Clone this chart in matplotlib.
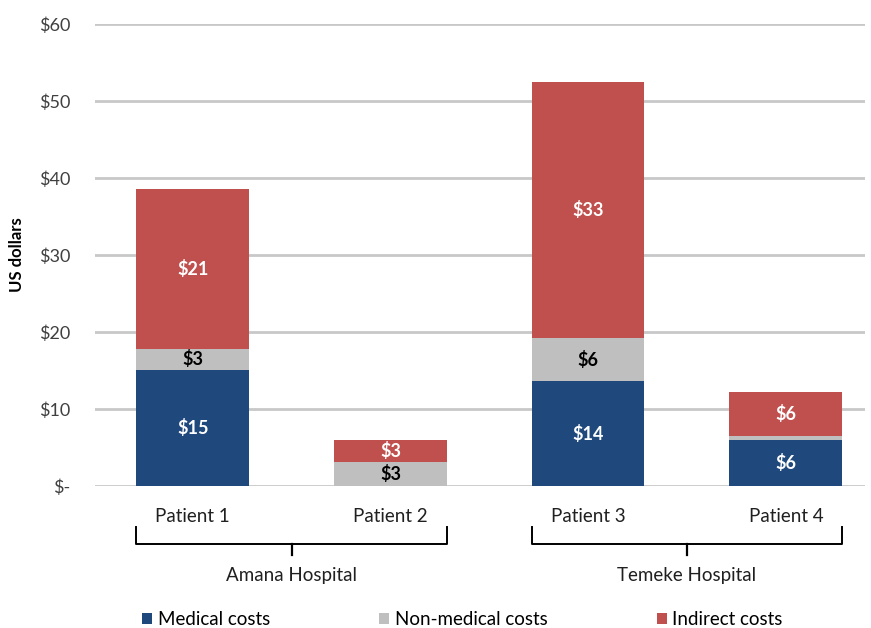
import numpy as np
import matplotlib.pyplot as plt
from matplotlib.lines import Line2D

plt.rcParams['font.family'] = ['Lato', 'DejaVu Sans']

# Data
patients = ['Patient 1', 'Patient 2', 'Patient 3', 'Patient 4']
hospitals = ['Amana Hospital', 'Temeke Hospital']
medical = [15.1, 0.0, 13.6, 6.0]
non_medical = [2.7, 3.1, 5.6, 0.5]
indirect = [20.8, 2.9, 33.3, 5.7]

colors = ['#1F497D', '#BFBFBF', '#C0504D']
names = ['Medical costs', 'Non-medical costs', 'Indirect costs']
text_colors = ['white', 'black', 'white']

fig = plt.figure(figsize=(8.71, 6.28), dpi=100)
ax = fig.add_axes([0.109, 0.226, 0.884, 0.736])

x = np.arange(len(patients))
width = 0.57
bottom = np.zeros(len(patients))
bars = []
for vals, col, name, tc in zip([medical, non_medical, indirect], colors, names, text_colors):
    vals = np.array(vals)
    b = ax.bar(x, vals, width, bottom=bottom, color=col, label=name, zorder=3)
    bars.append(b)
    for xi, v, bt in zip(x, vals, bottom):
        if v >= 1:
            ax.text(xi, bt + v / 2, f'${v:.0f}', ha='center', va='center',
                    color=tc, fontsize=13, fontweight='bold', zorder=4)
    bottom = bottom + vals

ax.set_ylim(0, 60)
ax.set_xlim(-0.495, 3.40)
ax.set_yticks(range(0, 61, 10))
ax.set_yticklabels(['$-'] + [f'${v}' for v in range(10, 61, 10)])
ax.yaxis.grid(True, color='#C8C8C8', linewidth=2)
ax.set_axisbelow(True)
for s in ax.spines.values():
    s.set_visible(False)
ax.tick_params(axis='y', length=0, labelsize=13, labelcolor='#404040', pad=18)
ax.set_xticks(x)
ax.set_xticklabels(patients, fontsize=13.5, color='#202020')
ax.tick_params(axis='x', length=0, pad=16)
ax.set_ylabel('US dollars', fontsize=12, fontweight='bold', labelpad=10)

# group brackets below the patient labels
trans = ax.get_xaxis_transform()
for i, hosp in enumerate(hospitals):
    left = x[2 * i] - width / 2
    right = x[2 * i + 1] + width / 2
    mid = (x[2 * i] + x[2 * i + 1]) / 2
    yt, yb, ym = -0.089, -0.126, -0.149
    ax.add_line(Line2D([left, left, right, right], [yt, yb, yb, yt], transform=trans,
                       color='black', linewidth=1.4, clip_on=False))
    ax.add_line(Line2D([mid, mid], [yb, ym], transform=trans,
                       color='black', linewidth=1.6, clip_on=False))
    ax.text(mid, -0.193, hosp, transform=trans, ha='center', va='center',
            fontsize=13.5, color='#202020')

fig.legend(handles=[b[0] for b in bars], labels=names, loc='center',
           bbox_to_anchor=(0.531, 0.013), ncol=3, frameon=False, fontsize=13.5,
           handlelength=0.55, handleheight=0.55, handletextpad=0.3, columnspacing=5.8)

plt.savefig('out.png', dpi=100)
